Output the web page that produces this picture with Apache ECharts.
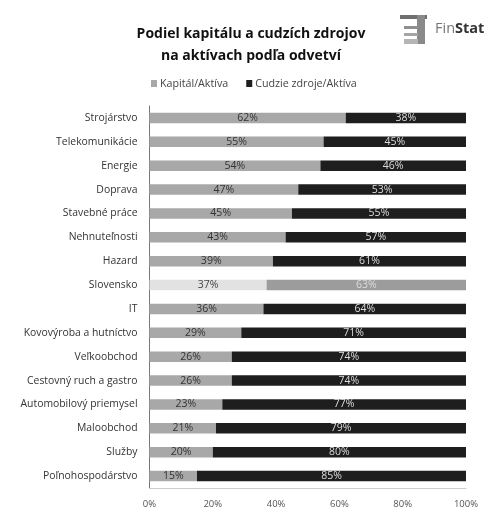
<!DOCTYPE html>
<html>
<head>
<meta charset="utf-8">
<style>html,body{margin:0;padding:0;background:#fff}#chart{width:488px;height:509px}</style>
<script src="https://cdn.jsdelivr.net/npm/echarts@6/dist/echarts.min.js"></script>
</head>
<body>
<div id="chart"></div>
<script>
const categories = ['Strojárstvo','Telekomunikácie','Energie','Doprava','Stavebné práce','Nehnuteľnosti','Hazard','Slovensko','IT','Kovovýroba a hutníctvo','Veľkoobchod','Cestovný ruch a gastro','Automobilový priemysel','Maloobchod','Služby','Poľnohospodárstvo'];
const capital = [62,55,54,47,45,43,39,37,36,29,26,26,23,21,20,15];
const foreign = [38,45,46,53,55,57,61,63,64,71,74,74,77,79,80,85];
const xTicks = [0,20,40,60,80,100];
const highlighted = 'Slovensko';
const font = '"Open Sans", sans-serif';

const chart = echarts.init(document.getElementById('chart'));

// The national average row gets its own pair of fills.
const toData = (values, accent, labelAccent) => values.map((v, i) => {
  if (categories[i] !== highlighted) return { value: v };
  return { value: v, itemStyle: { color: accent }, label: { color: labelAccent } };
});

chart.setOption({
  animation: false,
  backgroundColor: '#fff',
  title: {
    text: 'Podiel kapitálu a cudzích zdrojov\nna aktívach podľa odvetví',
    left: 246, top: 18, textAlign: 'center',
    textStyle: { fontFamily: font, fontSize: 14, fontWeight: 'bold', color: '#111', lineHeight: 22 }
  },
  legend: {
    top: 73, left: 146, itemWidth: 6, itemHeight: 7, itemGap: 18,
    icon: 'rect',
    textStyle: { fontFamily: font, fontSize: 10.7, color: '#444', padding: [0, 0, 0, -2] }
  },
  grid: { left: 149.5, right: 22, top: 106, bottom: 21, containLabel: false },
  xAxis: {
    type: 'value', min: 0, max: 100, interval: 20,
    splitLine: { show: false },
    axisLine: { show: true, lineStyle: { color: '#ccc' } },
    axisTick: { show: false },
    axisLabel: {
      formatter: v => xTicks.includes(v) ? v + '%' : '',
      fontFamily: font, fontSize: 9.5, color: '#555', margin: 11
    }
  },
  yAxis: {
    type: 'category', inverse: true, data: categories,
    axisLine: { show: true, lineStyle: { color: '#777' } },
    axisTick: { show: false },
    axisLabel: { fontFamily: font, fontSize: 10.4, color: '#333', margin: 12 }
  },
  series: [
    {
      name: 'Kapitál/Aktíva', type: 'bar', stack: 'share', barWidth: 10.5,
      itemStyle: { color: '#a8a8a8' },
      label: { show: true, position: 'inside', formatter: '{c}%', fontFamily: font, fontSize: 10.5, color: '#333' },
      data: toData(capital, '#e2e2e2', '#444')
    },
    {
      name: 'Cudzie zdroje/Aktíva', type: 'bar', stack: 'share', barWidth: 10.5,
      itemStyle: { color: '#1e1e1e' },
      label: { show: true, position: 'inside', formatter: '{c}%', fontFamily: font, fontSize: 10.5, color: '#ddd' },
      data: toData(foreign, '#9c9c9c', '#ddd')
    }
  ],
  graphic: [
    { type: 'rect', shape: { x: 400, y: 15, width: 27, height: 4 }, style: { fill: '#6f6f6f' } },
    { type: 'rect', shape: { x: 417, y: 15, width: 8, height: 29 }, style: { fill: '#8a8a8a' } },
    { type: 'rect', shape: { x: 404, y: 26, width: 14, height: 3 }, style: { fill: '#8f8f8f' } },
    { type: 'rect', shape: { x: 404, y: 33, width: 14, height: 3 }, style: { fill: '#a5a5a5' } },
    { type: 'rect', shape: { x: 404, y: 39, width: 14, height: 5 }, style: { fill: '#b5b5b5' } },
    {
      type: 'text', left: 435, top: 21,
      style: { rich: { a: { fontFamily: font, fontSize: 14.5, fill: '#777' }, b: { fontFamily: font, fontSize: 14.5, fontWeight: 'bold', fill: '#333' } }, text: '{a|Fin}{b|Stat}' }
    }
  ]
});
</script>
</body>
</html>
